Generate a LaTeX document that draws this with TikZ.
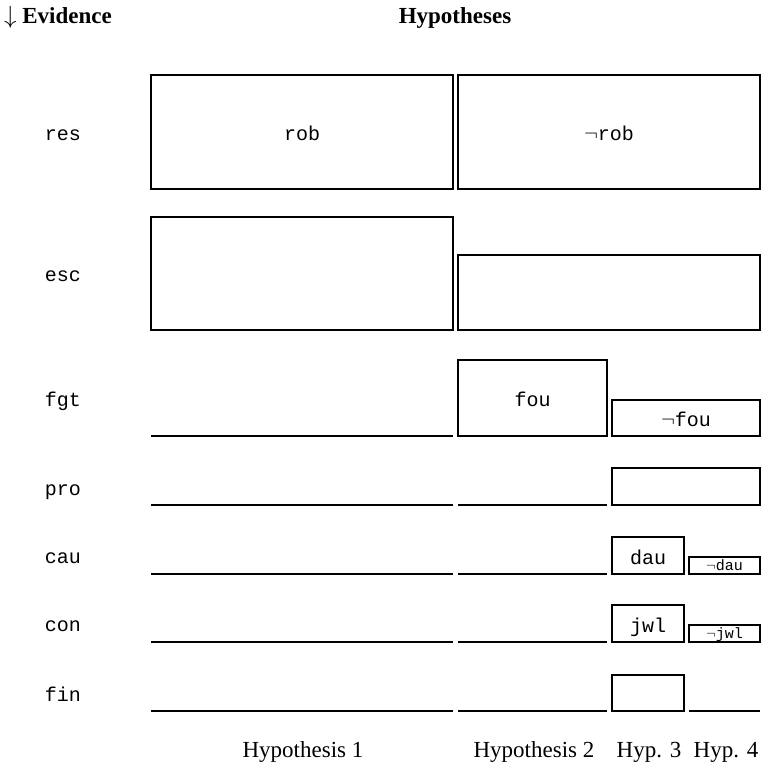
\documentclass[tikz,border=0pt]{standalone}
\usepackage{fontspec}
\setmainfont{Liberation Serif}
\setmonofont{Liberation Mono}
\tikzset{
  box/.style={draw=black, line width=2pt, rectangle, inner sep=0pt, outer sep=0pt,
    font=\ttfamily\fontsize{20}{24}\selectfont, text height=17pt, text depth=0pt},
  smallbox/.style={box, font=\ttfamily\fontsize{15}{17}\selectfont, text height=10pt, text depth=0pt},
  baseln/.style={draw=black, line width=2pt},
  evlabel/.style={font=\ttfamily\fontsize{20}{24}\selectfont, anchor=center, inner sep=0pt, text height=17pt, text depth=0pt},
  hyplabel/.style={font=\fontsize{23}{26}\selectfont, anchor=base, inner sep=0pt},
  head/.style={font=\bfseries\fontsize{23}{26}\selectfont, anchor=base, inner sep=0pt}
}
\begin{document}
\begin{tikzpicture}[x=1pt,y=-1pt]
\useasboundingbox (0,0) rectangle (762,767);
% headers
\node[head, anchor=base west] (evh) at (4,24) {$\downarrow$ Evidence};
\node[head] (hyh) at (455,24) {Hypotheses};
% evidence labels
\node[evlabel] (res) at (63,132) {res};
\node[evlabel] (esc) at (63,273) {esc};
\node[evlabel] (fgt) at (63,398) {fgt};
\node[evlabel] (pro) at (63,487) {pro};
\node[evlabel] (cau) at (63,555) {cau};
\node[evlabel] (con) at (63,623) {con};
\node[evlabel] (fin) at (63,693) {fin};
% row res
\node[box, minimum width=302, minimum height=114] (rob) at (302,132) {rob};
\node[box, minimum width=302, minimum height=114] (nrob) at (609,132) {$\neg$rob};
% row esc
\node[box, minimum width=302, minimum height=113] (esc1) at (302,273.5) {};
\node[box, minimum width=302, minimum height=75] (esc2) at (609,292.5) {};
% row fgt
\coordinate (f1a) at (151,436); \coordinate (f1b) at (453,436);
\draw[baseln] (f1a) -- (f1b);
\node[box, minimum width=149, minimum height=76] (fou) at (532.5,398) {fou};
\node[box, minimum width=148, minimum height=36] (nfou) at (686,418) {$\neg$fou};
% row pro
\coordinate (p1a) at (151,505); \coordinate (p1b) at (453,505);
\coordinate (p2a) at (458,505); \coordinate (p2b) at (607,505);
\draw[baseln] (p1a) -- (p1b);
\draw[baseln] (p2a) -- (p2b);
\node[box, minimum width=148, minimum height=37] (prob) at (686,486.5) {};
% row cau
\coordinate (c1a) at (151,574); \coordinate (c1b) at (453,574);
\coordinate (c2a) at (458,574); \coordinate (c2b) at (607,574);
\draw[baseln] (c1a) -- (c1b);
\draw[baseln] (c2a) -- (c2b);
\node[box, minimum width=72, minimum height=37] (dau) at (648,555.5) {dau};
\node[smallbox, minimum width=71, minimum height=17] (ndau) at (724.5,565.5) {$\neg$dau};
% row con
\coordinate (n1a) at (151,642); \coordinate (n1b) at (453,642);
\coordinate (n2a) at (458,642); \coordinate (n2b) at (607,642);
\draw[baseln] (n1a) -- (n1b);
\draw[baseln] (n2a) -- (n2b);
\node[box, minimum width=72, minimum height=37] (jwl) at (648,623.5) {jwl};
\node[smallbox, minimum width=71, minimum height=17] (njwl) at (724.5,633.5) {$\neg$jwl};
% row fin
\coordinate (i1a) at (151,711); \coordinate (i1b) at (453,711);
\coordinate (i2a) at (458,711); \coordinate (i2b) at (607,711);
\coordinate (i4a) at (689,711); \coordinate (i4b) at (760,711);
\draw[baseln] (i1a) -- (i1b);
\draw[baseln] (i2a) -- (i2b);
\node[box, minimum width=72, minimum height=36] (finb) at (648,693) {};
\draw[baseln] (i4a) -- (i4b);
% hypothesis labels
\node[hyplabel] (h1) at (303,757) {Hypothesis 1};
\node[hyplabel] (h2) at (534,757) {Hypothesis 2};
\node[hyplabel] (h3) at (649,757) {Hyp. 3};
\node[hyplabel] (h4) at (726,757) {Hyp. 4};
\end{tikzpicture}
\end{document}
